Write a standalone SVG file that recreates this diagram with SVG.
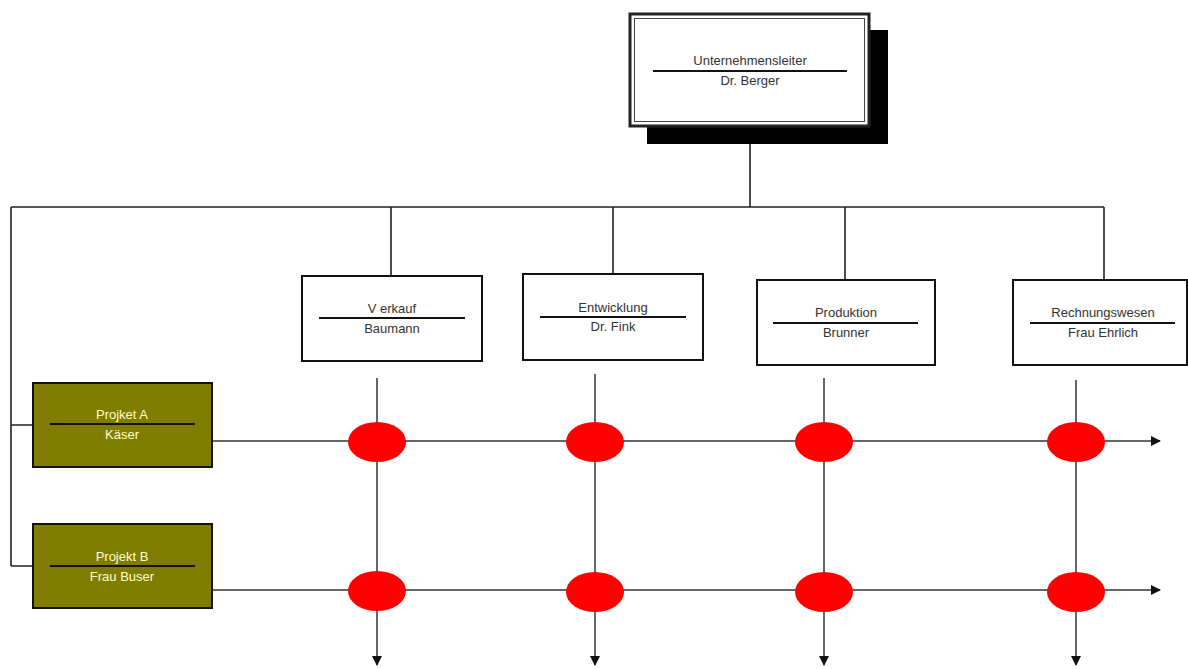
<svg xmlns="http://www.w3.org/2000/svg" width="1188" height="669" viewBox="0 0 1188 669">
<style>
.box{fill:#fff;stroke:#111;stroke-width:2}
.proj{fill:#7f7c00;stroke:#111;stroke-width:2}
.sep{stroke:#111;stroke-width:2}
.t{font-family:"Liberation Sans",Arial,sans-serif;font-size:13px;fill:#333;text-anchor:middle}
.tp{font-family:"Liberation Sans",Arial,sans-serif;font-size:13px;fill:#ffffcc;text-anchor:middle}
.c{stroke:#222;stroke-width:1.6;fill:none}
.a{stroke:#333;stroke-width:1.5;fill:none}
.dot{fill:#ff0000}
</style>
<defs>
<marker id="ah" markerWidth="10" markerHeight="10" refX="9" refY="5" orient="auto" markerUnits="userSpaceOnUse">
<path d="M0,0 L10,5 L0,10 Z" fill="#111"/>
</marker>
</defs>
<rect width="1188" height="669" fill="#fff"/>
<g id="connectors">
<path class="c" d="M750,144 V207 M11,207 H1104 M391,207 V276 M613,207 V274 M845,207 V280 M1104,207 V280 M11,207 V566 M11,425 H33 M11,566 H33"/>
<path class="a" d="M212,441 H1160" marker-end="url(#ah)"/>
<path class="a" d="M212,590 H1160" marker-end="url(#ah)"/>
<path class="a" d="M377,378 V665" marker-end="url(#ah)"/>
<path class="a" d="M595,374 V665" marker-end="url(#ah)"/>
<path class="a" d="M824,378 V665" marker-end="url(#ah)"/>
<path class="a" d="M1076,380 V665" marker-end="url(#ah)"/>
</g>
<g id="ceo">
<rect x="647" y="30" width="241" height="114" fill="#000"/>
<rect x="630" y="14" width="239" height="112" fill="#fff" stroke="#222" stroke-width="3"/>
<rect x="634.5" y="18.5" width="230" height="103" fill="none" stroke="#444" stroke-width="1"/>
<text class="t" x="750" y="65">Unternehmensleiter</text>
<line class="sep" x1="653" y1="71" x2="847" y2="71"/>
<text class="t" x="750" y="85">Dr. Berger</text>
</g>
<g id="verkauf">
<rect class="box" x="302" y="276" width="180" height="85"/>
<text class="t" x="392" y="313">V erkauf</text>
<line class="sep" x1="319" y1="318" x2="465" y2="318"/>
<text class="t" x="392" y="333">Baumann</text>
</g>
<g id="entwicklung">
<rect class="box" x="523" y="274" width="180" height="86"/>
<text class="t" x="613" y="312">Entwicklung</text>
<line class="sep" x1="540" y1="317" x2="686" y2="317"/>
<text class="t" x="613" y="331">Dr. Fink</text>
</g>
<g id="produktion">
<rect class="box" x="757" y="280" width="178" height="85"/>
<text class="t" x="846" y="317">Produktion</text>
<line class="sep" x1="773" y1="323" x2="918" y2="323"/>
<text class="t" x="846" y="337">Brunner</text>
</g>
<g id="rechnungswesen">
<rect class="box" x="1013" y="280" width="174" height="85"/>
<text class="t" x="1103" y="317">Rechnungswesen</text>
<line class="sep" x1="1030" y1="323" x2="1175" y2="323"/>
<text class="t" x="1103" y="337">Frau Ehrlich</text>
</g>
<g id="projektA">
<rect class="proj" x="33" y="383" width="179" height="84"/>
<text class="tp" x="122" y="419">Projket A</text>
<line class="sep" x1="50" y1="424" x2="195" y2="424"/>
<text class="tp" x="122" y="439">Käser</text>
</g>
<g id="projektB">
<rect class="proj" x="33" y="524" width="179" height="84"/>
<text class="tp" x="122" y="561">Projekt B</text>
<line class="sep" x1="50" y1="566" x2="195" y2="566"/>
<text class="tp" x="122" y="581">Frau Buser</text>
</g>
<g id="intersections">
<ellipse class="dot" cx="377" cy="442" rx="29" ry="20"/>
<ellipse class="dot" cx="595" cy="442" rx="29" ry="20"/>
<ellipse class="dot" cx="824" cy="442" rx="29" ry="20"/>
<ellipse class="dot" cx="1076" cy="442" rx="29" ry="20"/>
<ellipse class="dot" cx="377" cy="591" rx="29" ry="20"/>
<ellipse class="dot" cx="595" cy="592" rx="29" ry="20"/>
<ellipse class="dot" cx="824" cy="592" rx="29" ry="20"/>
<ellipse class="dot" cx="1076" cy="592" rx="29" ry="20"/>
</g>
</svg>
